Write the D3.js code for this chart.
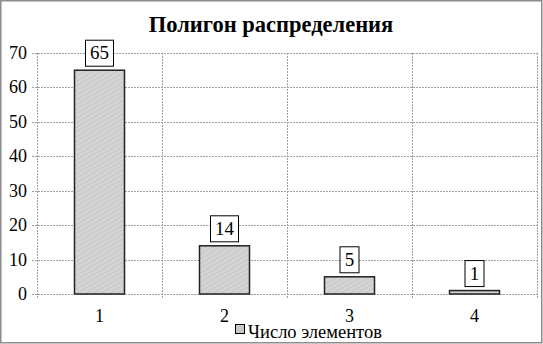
<html lang="ru">
<head>
<meta charset="utf-8">
<title>Полигон распределения</title>
<script src="https://cdn.jsdelivr.net/npm/d3@7"></script>
<style>
  body { margin: 0; background: #fff; }
</style>
</head>
<body>
<script>
var categories = ["1", "2", "3", "4"];
var values = [65, 14, 5, 1];
var yTicks = [0, 10, 20, 30, 40, 50, 60, 70];
var seriesName = "Число элементов";
var title = "Полигон распределения";

var width = 543, height = 344;
var plotLeft = 37, plotRight = 537, plotTop = 53, plotBottom = 294;
var serif = "'Liberation Serif', 'Times New Roman', serif";

var svg = d3.select("body").append("svg").attr("width", width).attr("height", height)
  .attr("font-family", serif);

// hatched bar fill
var defs = svg.append("defs");
var pat = defs.append("pattern").attr("id", "hatch").attr("patternUnits", "userSpaceOnUse")
  .attr("width", 4).attr("height", 4).attr("patternTransform", "rotate(60)");
pat.append("rect").attr("width", 4).attr("height", 4).attr("fill", "#d4d4d4");
pat.append("line").attr("x1", 0).attr("y1", 0).attr("x2", 0).attr("y2", 4).attr("stroke", "#bdbdbd").attr("stroke-width", 1.2);

// outer frame
svg.append("rect").attr("x", 0.75).attr("y", 0.75).attr("width", width - 2).attr("height", height - 2)
  .attr("fill", "#fff").attr("stroke", "#8c8c8c").attr("stroke-width", 1.5);

var x = d3.scaleBand().domain(categories).range([plotLeft, plotRight]).padding(0);
var y = d3.scaleLinear().domain([0, 70]).range([plotBottom, plotTop]);

// horizontal grid
svg.append("g").selectAll("line").data(yTicks).enter().append("line")
  .attr("x1", plotLeft - 5).attr("x2", plotRight)
  .attr("y1", function (d) { return Math.round(y(d)) + 0.5 }).attr("y2", function (d) { return Math.round(y(d)) + 0.5 })
  .attr("stroke", "#a0a0a0").attr("stroke-dasharray", "2,1");

// vertical grid at category boundaries
var bounds = categories.map(function (c) { return x(c) }).concat([plotRight]);
svg.append("g").selectAll("line").data(bounds).enter().append("line")
  .attr("x1", function (d) { return Math.round(d) + 0.5 }).attr("x2", function (d) { return Math.round(d) + 0.5 })
  .attr("y1", plotTop).attr("y2", plotBottom + 5)
  .attr("stroke", "#a0a0a0").attr("stroke-dasharray", "2,1");

// y tick labels
svg.append("g").selectAll("text").data(yTicks).enter().append("text")
  .attr("x", 27).attr("y", function (d) { return y(d) + 6 })
  .attr("text-anchor", "end").attr("font-size", "18px").text(function (d) { return d });

// x tick labels
svg.append("g").selectAll("text").data(categories).enter().append("text")
  .attr("x", function (d) { return x(d) + x.bandwidth() / 2 }).attr("y", 322)
  .attr("text-anchor", "middle").attr("font-size", "18px").text(function (d) { return d });

// bars
var bw = x.bandwidth() * 0.4;
svg.append("g").selectAll("rect").data(values).enter().append("rect")
  .attr("x", function (d, i) { return x(categories[i]) + (x.bandwidth() - bw) / 2 })
  .attr("y", function (d) { return y(d) })
  .attr("width", bw).attr("height", function (d) { return plotBottom - y(d) })
  .attr("fill", "url(#hatch)").attr("stroke", "#222").attr("stroke-width", 1.5);

// data labels
var lab = svg.append("g").selectAll("g").data(values).enter().append("g")
  .attr("transform", function (d, i) { return "translate(" + (x(categories[i]) + x.bandwidth() / 2) + "," + (y(d) - 4) + ")" });
lab.append("rect")
  .attr("x", function (d) { return -(String(d).length * 9 + 10) / 2 }).attr("y", -26)
  .attr("width", function (d) { return String(d).length * 9 + 10 }).attr("height", 26)
  .attr("fill", "#fff").attr("stroke", "#000").attr("stroke-width", 1);
lab.append("text").attr("x", 0).attr("y", -7).attr("text-anchor", "middle").attr("font-size", "19px")
  .text(function (d) { return d });

// title
svg.append("text").attr("x", 271).attr("y", 32).attr("text-anchor", "middle")
  .attr("font-size", "22.5px").attr("font-weight", "bold").text(title);

// legend
svg.append("rect").attr("x", 235.5).attr("y", 324.5).attr("width", 9).attr("height", 9)
  .attr("fill", "#c8c8c8").attr("stroke", "#000").attr("stroke-width", 1);
svg.append("text").attr("x", 248).attr("y", 338).attr("font-size", "18.5px").text(seriesName);
</script>
</body>
</html>
